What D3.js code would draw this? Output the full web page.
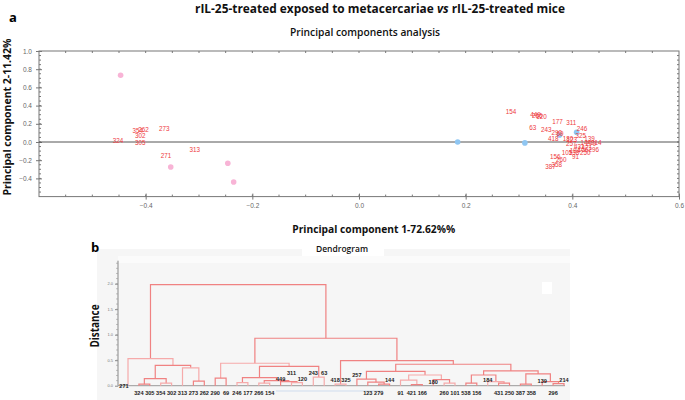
<!DOCTYPE html>
<html><head><meta charset="utf-8">
<script src="https://cdn.jsdelivr.net/npm/d3@7"></script>
<style>html,body{margin:0;padding:0;background:#fff}svg{display:block}</style>
</head><body>
<script>
// ---------- DATA ----------
const xTickValues = [-0.4, -0.2, 0.0, 0.2, 0.4, 0.6];
const yTickValues = [-0.4, -0.2, 0.0, 0.2, 0.4, 0.6, 0.8, 1.0];
const pinkX = [-0.447, -0.353, -0.246, -0.235];
const pinkY = [0.733, -0.275, -0.234, -0.44];
const blueX = [0.185, 0.311, 0.376, 0.408];
const blueY = [0.0, -0.01, 0.077, 0.107];
const sampleLabels = ["324","305","302","354","262","273","271","313",
  "154","449","266","120","63","243","177","311","246","290","69","418","325","180","123","139",
  "257","144","214","279","431","421","296","166","184","538","250","101","91","260","358","387","156"];
const sampleX = [-0.452,-0.41,-0.41,-0.415,-0.404,-0.365,-0.362,-0.308,
  0.285,0.331,0.334,0.342,0.326,0.351,0.372,0.398,0.418,0.371,0.377,0.364,0.416,0.392,0.399,0.432,
  0.398,0.425,0.445,0.435,0.413,0.427,0.440,0.420,0.405,0.403,0.424,0.390,0.406,0.379,0.371,0.359,0.368];
const sampleY = [0.01,-0.01,0.07,0.12,0.13,0.14,-0.157,-0.09,
  0.333,0.300,0.290,0.272,0.157,0.132,0.223,0.212,0.140,0.096,0.085,0.033,0.066,0.032,0.028,0.033,
  -0.022,-0.005,-0.010,-0.016,-0.058,-0.066,-0.088,-0.082,-0.095,-0.118,-0.124,-0.124,-0.168,-0.198,-0.245,-0.271,-0.168];

// dendrogram: [height, left, right] or leaf name
const dendroTree = [1.98,
  [0.53, "271", [0.40, [0.14, [0.03,"324","305"], [0.05,"354","302"]], [0.35, "313", [0.09,"273","262"]]]],
  [0.93,
    [0.44, [0.15,"290","69"],
      [0.38, [0.16, [0.06,"246","177"], [0.10, [0.05,"266","154"], [0.08,"449",[0.06,"311","120"]]]],
             [0.17,"243","63"]]],
    [0.49, [0.03,"418","325"],
      [0.42,
        [0.28, [0.13,"257",[0.07,"123",[0.03,"279","144"]]],
               [0.21, [0.11,"91",[0.02,"421","166"]], [0.12,"180",[0.05,"260","101"]]]],
        [0.29, [0.21, [0.05,"538","156"], [0.08,"184",[0.05,"431","250"]]],
               [0.23, [0.03,"387","358"], [0.08,"139",[0.04,"296","214"]]]]]]]
];
const distanceTicks = [0.0, 0.5, 1.0, 1.5, 2.0];
// labels drawn above the baseline, at the given distance level
const raisedLabelNames = ["271","449","311","120","243","63","418","325","257","144","180","184","139","214"];
const raisedLabelLevel = [0.0, 0.13, 0.24, 0.13, 0.25, 0.25, 0.11, 0.11, 0.21, 0.11, 0.07, 0.11, 0.09, 0.11];

// ---------- DRAW ----------
const W = 685, H = 400;
const svg = d3.select("body").append("svg").attr("width", W).attr("height", H)
  .style("font-family", "'Open Sans', 'Noto Sans', sans-serif");

function fitText(sel, len){ sel.attr("textLength", len).attr("lengthAdjust", "spacingAndGlyphs"); }

// Titles
const t = svg.append("text").attr("x", 380).attr("y", 13).attr("text-anchor","middle")
  .attr("font-size", 11.5).attr("font-weight","bold").attr("fill","#111");
t.append("tspan").text("rIL-25-treated exposed to metacercariae ");
t.append("tspan").attr("font-style","italic").text("vs");
t.append("tspan").text(" rIL-25-treated mice");
fitText(t, 370);
svg.append("text").attr("x", 13).attr("y", 22).attr("text-anchor","middle")
  .attr("font-size", 13).attr("font-weight","bold").text("a");
fitText(svg.append("text").attr("x", 365).attr("y", 36).attr("text-anchor","middle")
  .attr("font-size", 10.5).attr("font-weight",600).attr("fill","#111").text("Principal components analysis"), 150);

// PCA scales
const x = d3.scaleLinear().domain([-0.6, 0.6]).range([39, 679]);
const y = d3.scaleLinear().domain([-0.6, 1.0]).range([196.6, 51]);
const pca = svg.append("g");
const axCol = "#777";
// frame
pca.append("rect").attr("x", x(-0.6)).attr("y", y(1.0)).attr("width", x(0.6)-x(-0.6))
  .attr("height", y(-0.6)-y(1.0)).attr("fill","none").attr("stroke", axCol).attr("stroke-width", 1);
// minor ticks
const minorX = d3.range(-0.55, 0.6, 0.05);
const minorY = d3.range(-0.55, 1.0, 0.05);
pca.selectAll(".mxb").data(minorX).join("line").attr("x1", d=>x(d)).attr("x2", d=>x(d))
  .attr("y1", y(-0.6)).attr("y2", y(-0.6)-2).attr("stroke", axCol);
pca.selectAll(".mxt").data(minorX).join("line").attr("x1", d=>x(d)).attr("x2", d=>x(d))
  .attr("y1", y(1.0)).attr("y2", y(1.0)+2).attr("stroke", axCol);
pca.selectAll(".myl").data(minorY).join("line").attr("y1", d=>y(d)).attr("y2", d=>y(d))
  .attr("x1", x(-0.6)).attr("x2", x(-0.6)+2).attr("stroke", axCol);
pca.selectAll(".myr").data(minorY).join("line").attr("y1", d=>y(d)).attr("y2", d=>y(d))
  .attr("x1", x(0.6)).attr("x2", x(0.6)-2).attr("stroke", axCol);
// major ticks + labels
const bAxis = pca.append("g").attr("transform", `translate(0,${y(-0.6)})`)
  .call(d3.axisBottom(x).tickValues(xTickValues).tickFormat(d3.format(".1f")).tickSize(3).tickPadding(4));
const lAxis = pca.append("g").attr("transform", `translate(${x(-0.6)},0)`)
  .call(d3.axisLeft(y).tickValues(yTickValues).tickFormat(d3.format(".1f")).tickSize(3).tickPadding(4));
[bAxis, lAxis].forEach(g => {
  g.select(".domain").remove();
  g.selectAll("line").attr("stroke", axCol);
  g.selectAll("text").attr("font-size", 6.5).attr("fill","#666").attr("font-family","'Liberation Sans', Arial, sans-serif");
});
bAxis.selectAll(".tick line").attr("y1", -3);
lAxis.selectAll(".tick line").attr("x1", 3);
// zero line
pca.append("line").attr("x1", x(-0.6)).attr("x2", x(0.6)).attr("y1", y(0)).attr("y2", y(0))
  .attr("stroke", "#555").attr("stroke-width", 1);
// points
pca.selectAll(".pink").data(pinkX).join("circle").attr("cx", d=>x(d)).attr("cy", (d,i)=>y(pinkY[i]))
  .attr("r", 2.8).attr("fill", "#f8b4d6");
pca.selectAll(".blue").data(blueX).join("circle").attr("cx", d=>x(d)).attr("cy", (d,i)=>y(blueY[i]))
  .attr("r", 2.8).attr("fill", "#8fc6f2");
pca.selectAll(".lab").data(sampleLabels).join("text")
  .attr("x", (d,i)=>x(sampleX[i])).attr("y", (d,i)=>y(sampleY[i])).attr("dy","0.35em")
  .attr("text-anchor","middle").attr("font-size", 6.3).attr("fill","#ee3a40")
  .attr("font-family","'Liberation Sans', Arial, sans-serif").text(d=>d);
// axis titles
fitText(svg.append("text").attr("x", 373.7).attr("y", 233).attr("text-anchor","middle")
  .attr("font-size", 11).attr("font-weight","bold").attr("fill","#111").text("Principal component 1-72.62%%"), 163);
fitText(svg.append("text").attr("transform","translate(11,117) rotate(-90)").attr("text-anchor","middle")
  .attr("font-size", 11).attr("font-weight","bold").attr("fill","#111").text("Principal component 2-11.42%"), 157);

// ---------- Dendrogram ----------
svg.append("rect").attr("x", 97).attr("y", 249).attr("width", 473).attr("height", 151).attr("fill", "#f6f6f6");
svg.append("rect").attr("x", 118).attr("y", 256).attr("width", 452).attr("height", 7).attr("fill", "#fbfbfb");
svg.append("rect").attr("x", 302).attr("y", 238).attr("width", 82).attr("height", 18).attr("fill", "#ffffff");
svg.append("rect").attr("x", 542).attr("y", 282).attr("width", 10).attr("height", 12).attr("fill", "#ffffff");
svg.append("text").attr("x", 95).attr("y", 252).attr("text-anchor","middle")
  .attr("font-size", 13).attr("font-weight","bold").text("b");
fitText(svg.append("text").attr("x", 342).attr("y", 252).attr("text-anchor","middle")
  .attr("font-size", 9.5).attr("font-weight",600).attr("fill","#111").text("Dendrogram"), 52);
fitText(svg.append("text").attr("transform","translate(99,326) rotate(-90)").attr("text-anchor","middle")
  .attr("font-size", 12).attr("font-weight","bold").attr("fill","#111").text("Distance"), 43);

function build(n){ return typeof n === "string" ? {name:n, h:0} : {h:n[0], children:[build(n[1]), build(n[2])]}; }
const root = d3.hierarchy(build(dendroTree));
const leafOrder = root.leaves().map(d => d.data.name);
const xd = d3.scalePoint().domain(leafOrder).range([128, 564]);
const yd = d3.scaleLinear().domain([0, 2.45]).range([385.7, 260.7]);
root.eachAfter(n => { n.x = n.children ? d3.mean(n.children, c => c.x) : xd(n.data.name); });

const dg = svg.append("g");
// baseline
dg.append("line").attr("x1", 118).attr("x2", 565).attr("y1", yd(0)).attr("y2", yd(0)).attr("stroke","#999").attr("stroke-width",1);
dg.append("line").attr("x1", 276).attr("x2", 383).attr("y1", 391).attr("y2", 391).attr("stroke","#cfdcee").attr("stroke-width",1);
// y axis
const dAxis = dg.append("g").attr("transform","translate(118,0)")
  .call(d3.axisLeft(yd).tickValues(distanceTicks).tickFormat(d3.format(".1f")).tickSize(3).tickPadding(2));
dAxis.select(".domain").attr("stroke","#888").attr("d", `M0,${yd(0)}V${yd(2.45)}`);
dAxis.selectAll("line").attr("stroke","#888");
dAxis.selectAll("text").attr("font-size", 4).attr("fill","#777");
dg.selectAll(".dm").data(d3.range(0.1, 2.45, 0.1)).join("line").attr("x1",116).attr("x2",118)
  .attr("y1", d=>yd(d)).attr("y2", d=>yd(d)).attr("stroke","#999").attr("stroke-width",0.6);
// links
const nodes = root.descendants().filter(n => n.children);
dg.selectAll(".lk").data(nodes).join("path").attr("fill","none")
  .attr("stroke", (d,i) => i % 3 === 1 ? "#f6aaaa" : "#f08282").attr("stroke-width", 1.2)
  .attr("d", n => { const [a,b] = n.children;
    return `M${a.x},${yd(a.data.h)}V${yd(n.data.h)}H${b.x}V${yd(b.data.h)}`; });
// labels
const raised = new Map(raisedLabelNames.map((n,i)=>[n, raisedLabelLevel[i]]));
dg.selectAll(".dl").data(root.leaves()).join("text")
  .attr("x", d => d.x - (d.data.name === "271" ? 4 : 0))
  .attr("y", d => raised.has(d.data.name) ? yd(raised.get(d.data.name)) : yd(0) + 7)
  .attr("dy", "0.35em").attr("text-anchor","middle").attr("font-size", 5.6).attr("font-weight", 600)
  .attr("fill","#222").attr("font-family","'Liberation Sans', Arial, sans-serif")
  .text(d => d.data.name);
</script>
</body></html>
